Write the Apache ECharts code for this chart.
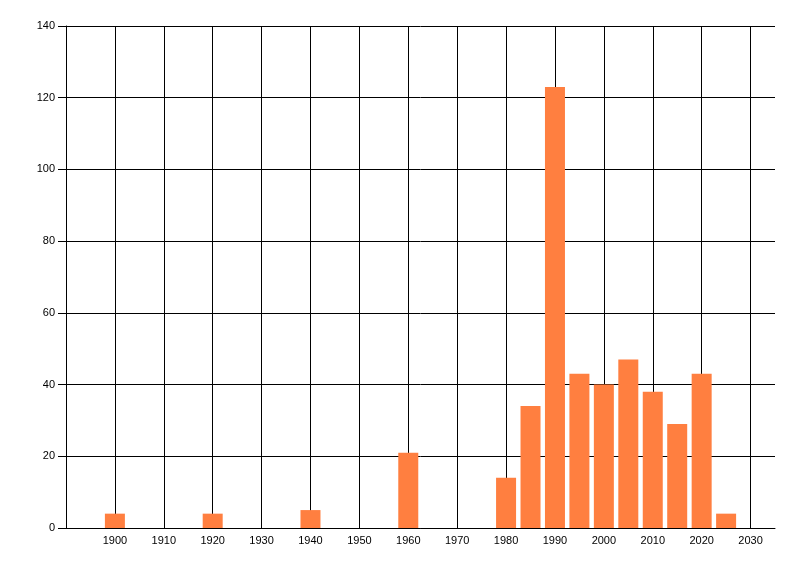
<!DOCTYPE html>
<html>
<head>
<meta charset="utf-8">
<style type="text/css">
html, body{margin:0; padding:0; background:#fff}
#chart{width:800px; height:576px}
</style>
<script src="https://cdn.jsdelivr.net/npm/echarts@6/dist/echarts.min.js"></script>
</head>
<body>
<div id="chart"></div>
<script type="text/javascript">
// data
var years  = [1900, 1920, 1940, 1960, 1980, 1985, 1990, 1995, 2000, 2005, 2010, 2015, 2020, 2025];
var counts = [4, 4, 5, 21, 14, 34, 123, 43, 40, 47, 38, 29, 43, 4];
// vertical grid lines (the labelled decades)
var gridYears = [1900, 1910, 1920, 1930, 1940, 1950, 1960, 1970, 1980, 1990, 2000, 2010, 2020, 2030];

var chart = echarts.init(document.getElementById("chart"));
var points = years.map(function(y, i){ return [y, counts[i]]; });
var font = 'Liberation Sans';

var option = {
    animation: false,
    grid: {
        left: 66,
        right: 25,
        top: 26,
        bottom: 48
    },
    xAxis: {
        type: 'value',
        min: 1890,
        max: 2035,
        interval: 10,
        axisLine: {show: true, lineStyle: {color: '#000', width: 1}},
        axisTick: {show: false},
        axisLabel: {
            color: '#000',
            fontFamily: font,
            fontSize: 11,
            margin: 7,
            showMinLabel: false,
            showMaxLabel: false,
            formatter: function(v){ return String(v); }
        },
        splitLine: {show: false}
    },
    yAxis: {
        type: 'value',
        min: 0,
        max: 140,
        interval: 20,
        axisLine: {show: true, lineStyle: {color: '#000', width: 1}},
        axisTick: {show: true, length: 8, lineStyle: {color: '#000'}},
        axisLabel: {color: '#000', fontFamily: font, fontSize: 11, margin: 11},
        splitLine: {show: true, lineStyle: {color: '#000', width: 1}}
    },
    series: [
        {
            // holds the vertical grid lines, drawn under the bars
            type: 'line',
            z: 1,
            silent: true,
            data: [],
            markLine: {
                z: 1,
                silent: true,
                symbol: 'none',
                label: {show: false},
                lineStyle: {color: '#000', width: 1, type: 'solid'},
                data: gridYears.map(function(y){ return {xAxis: y}; })
            }
        },
        {
            type: 'bar',
            z: 3,
            barWidth: 20,
            itemStyle: {color: '#FF7F40'},
            data: points
        }
    ]
};
chart.setOption(option, true);
</script>
</body>
</html>
